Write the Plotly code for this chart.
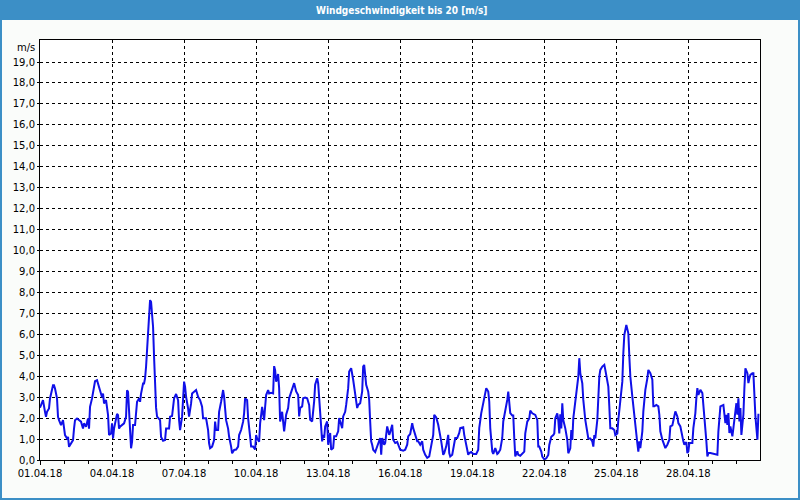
import pandas as pd
import plotly.graph_objects as go

# Hours after 01.04.2018 00:00 and wind speed [m/s]
hours = [0, 2, 3, 5, 6, 7, 9, 10, 12, 13, 14, 15, 17, 18, 19, 21, 23, 24, 25, 27, 28, 29, 31, 33, 34, 35, 37, 39, 41, 43, 44, 46, 48, 49,
         50, 52, 54, 55, 57, 59, 60, 62, 63, 64, 66, 67, 68, 69, 71, 72, 73, 74, 75, 77, 78, 79, 80, 82, 84, 86, 87, 88, 89, 91, 92, 93,
         95, 96, 97, 99, 100, 101, 103, 104, 105, 106, 108, 109, 110, 111, 112, 113, 114, 115, 116, 117, 118, 120, 121, 123, 125, 126,
         129, 130, 132, 134, 136, 138, 139, 140, 142, 144, 145, 146, 148, 149, 151, 152, 154, 156, 158, 160, 162, 163, 166, 168, 169,
         170, 172, 174, 175, 176, 178, 179, 181, 183, 184, 186, 188, 189, 191, 192, 194, 196, 198, 199, 201, 203, 204, 205, 207, 208,
         210, 211, 213, 215, 216, 217, 219, 220, 222, 224, 225, 226, 228, 229, 231, 233, 234, 235, 236, 238, 239, 240, 242, 243, 244,
         246, 248, 249, 251, 253, 254, 256, 258, 259, 260, 262, 263, 265, 267, 269, 270, 272, 273, 274, 275, 277, 278, 279, 280, 281,
         282, 283, 284, 285, 287, 288, 290, 291, 293, 294, 296, 298, 299, 300, 302, 303, 305, 306, 308, 309, 311, 313, 314, 316, 317,
         318, 320, 322, 323, 324, 325, 326, 328, 329, 330, 331, 332, 333, 335, 337, 338, 340, 341, 342, 344, 345, 347, 349, 350, 352,
         353, 355, 357, 358, 360, 363, 365, 367, 368, 370, 371, 372, 373, 375, 377, 378, 380, 382, 383, 385, 387, 389, 391, 393, 394,
         396, 398, 399, 401, 403, 404, 406, 408, 409, 410, 412, 414, 415, 417, 419, 420, 423, 424, 426, 428, 429, 431, 433, 436, 438,
         439, 441, 443, 444, 446, 448, 449, 450, 452, 453, 455, 457, 458, 460, 462, 463, 465, 467, 468, 469, 470, 472, 473, 474, 475,
         477, 478, 480, 482, 483, 484, 485, 487, 489, 490, 492, 493, 495, 497, 498, 499, 501, 502, 504, 506, 508, 509, 511, 513, 514,
         515, 517, 518, 519, 520, 521, 522, 523, 525, 527, 528, 530, 531, 532, 533, 535, 537, 538, 539, 540, 542, 543, 545, 547, 548,
         550, 552, 553, 554, 555, 557, 559, 560, 562, 564, 565, 566, 568, 569, 570, 572, 574, 575, 577, 578, 580, 582, 583, 584, 586,
         588, 589, 590, 592, 594, 595, 597, 598, 599, 600, 602, 603, 605, 607, 608, 610, 612, 613, 614, 616, 618, 619, 620, 622, 624,
         625, 627, 629, 630, 632, 633, 635, 637, 638, 640, 642, 643, 644, 646, 647, 648, 649, 652, 653, 655, 656, 657, 658, 660, 662,
         663, 665, 666, 667, 668, 670, 673, 675, 677, 678, 679, 680, 683, 684, 685, 686, 687, 688, 689, 690, 692, 693, 694, 695, 696,
         697, 698, 699, 700, 701, 703, 704, 705, 707, 708, 709, 710, 712, 713, 714, 715, 717, 718, 719]

speeds = [2.5, 2.8, 2.86, 2.3, 2.06, 2.3, 2.46, 2.94, 3.33, 3.57, 3.57, 3.41, 2.94, 2.06, 1.9, 1.67, 1.9, 1.59, 1.19, 1.03, 1.1, 0.63,
          0.8, 0.95, 1.5, 1.9, 1.98, 1.9, 1.83, 1.5, 1.75, 1.59, 1.98, 1.5,
          2.54, 2.94, 3.57, 3.76, 3.81, 3.49, 3.41, 3.0, 3.17, 2.7, 2.86, 2.46, 2.14, 1.19, 1.27, 1.75, 1.03, 1.5, 1.75, 2.2, 2.14, 1.5,
          1.59, 1.67, 1.75, 2.06, 3.33, 3.25, 2.14, 0.56, 0.87, 1.67,
          1.67, 2.14, 2.78, 2.94, 2.78, 3.17, 3.65, 3.65, 3.9, 4.45, 6.36, 7.07, 7.63, 7.55, 7.0, 6.36, 4.93, 3.34, 2.5, 2.07, 1.99, 1.9,
          1.1, 0.92, 0.95, 1.5,
          1.5, 2.07, 2.1, 2.94, 3.15, 2.86, 1.9, 1.43, 2.07, 3.74, 3.5, 3.02, 2.46, 2.07, 2.7, 3.18, 3.26, 3.34, 3.02, 2.86, 2.54, 1.99,
          1.99, 1.43, 0.8,
          0.56, 0.64, 0.95, 1.83, 1.43, 1.43, 2.3, 2.78, 3.34, 3.02, 1.9, 1.5, 1.11, 0.64, 0.32, 0.48, 0.5, 0.64, 1.19, 1.43, 1.83, 2.23,
          2.94, 2.86, 1.99,
          1.11, 0.64, 0.64, 0.5, 1.19, 1.03, 0.87, 1.75, 2.54, 1.9, 2.54, 3.1, 3.34, 3.18, 3.21, 3.18, 4.48, 4.29, 3.74, 4.1, 3.43, 1.84,
          2.3, 1.92, 1.37,
          2.16, 2.48, 2.95, 3.27, 3.5, 3.67, 3.27, 3.1, 2.08, 2.48, 2.56, 2.95, 2.98, 2.95, 2.63, 1.92, 1.84, 2.3, 2.8, 3.59, 3.9, 3.67,
          2.95, 2.3, 1.92,
          0.89, 1.2, 1.05, 1.6, 1.84, 0.73, 1.29, 0.49, 0.57, 1.13, 1.13, 1.37, 2.0, 1.84, 1.52, 2.08, 2.3, 2.63, 3.43, 4.22, 4.38, 3.83,
          3.43, 2.87, 2.48,
          2.63, 2.71, 3.27, 4.46, 4.54, 3.9, 3.59, 3.27, 2.87, 1.84, 0.89, 0.73, 0.49, 0.38, 0.65, 0.81, 1.05, 0.25, 1.05, 0.73, 0.81, 1.6,
          1.2, 1.33, 1.68,
          0.97, 0.81, 0.86, 0.73, 0.49, 0.44, 0.49, 0.73, 1.13, 1.24, 1.52, 1.76, 1.52, 1.13, 0.89, 0.89, 0.73, 0.89, 0.49, 0.25, 0.1,
          0.17, 0.73, 1.2, 2.16,
          2.03, 1.68, 1.44, 0.89, 0.25, 0.33, 0.65, 1.2, 0.33, 0.17, 0.25, 0.73, 1.05, 1.05, 1.29, 1.52, 1.56, 1.2, 0.73, 0.25, 0.33, 0.38,
          0.29, 0.29, 0.49,
          1.52, 2.24, 2.79, 3.03, 3.43, 3.27, 2.79, 1.52, 0.41, 0.29, 0.57, 0.29, 0.33, 0.49, 1.05, 1.84, 2.32, 2.87, 3.27, 2.56, 2.24,
          2.13, 2.13, 1.05, 0.17,
          0.41, 0.25, 0.2, 0.28, 0.32, 0.4, 1.27, 1.83, 1.99, 2.36, 2.23, 2.2, 2.15, 1.91, 0.64, 0.64, 0.4, 0.16, 0.03, 0.08, 0.24, 0.72,
          1.11, 1.19, 1.27,
          1.99, 2.23, 1.91, 1.27, 2.18, 1.51, 2.71, 1.91, 1.51, 0.96, 0.32, 0.56, 1.43, 0.96, 1.99, 2.71, 3.5, 3.98, 4.86, 4.14, 3.66,
          2.87, 1.91, 1.43, 1.03,
          1.03, 0.88, 0.64, 1.19, 1.03, 1.91, 3.98, 4.3, 4.46, 4.54, 4.3, 4.06, 3.5, 2.55, 1.51, 1.51, 1.43, 1.19, 1.27, 1.91, 2.71, 3.74,
          5.1, 5.97, 6.45,
          6.05, 4.94, 3.98, 3.03, 2.07, 1.43, 0.8, 0.4, 0.89, 0.57, 1.37, 2.32, 3.35, 3.9, 4.3, 4.14, 3.83, 2.56, 2.56, 2.63, 2.56, 2.16,
          1.37, 0.97, 0.65,
          0.57, 0.73, 0.97, 1.6, 1.65, 1.87, 2.32, 2.08, 1.76, 1.6, 0.97, 0.89, 0.73, 0.86, 0.33, 0.41, 0.81, 0.81, 1.52, 2.24, 2.95, 3.43,
          3.11, 3.35, 3.19,
          2.63, 1.84, 0.89, 0.17, 0.33, 0.33, 0.29, 0.29, 0.25, 1.37, 2.24, 2.56, 2.63, 2.24, 1.76, 2.16, 1.68, 2.24, 1.29, 1.6, 1.13, 1.52,
          1.84, 2.24, 2.71,
          2.16, 2.95, 1.84, 2.48, 1.2, 2.16, 3.43, 4.38, 4.14, 3.67, 3.9, 4.06, 4.14, 4.14, 3.11, 2.08, 0.97, 2.16, 2.16]

title_text = "Windgeschwindigkeit bis 20 [m/s]"
unit_text = "m/s"
y_ticks = list(range(0, 20))

start = pd.Timestamp("2018-04-01 00:00")
end = start + pd.Timedelta(hours=719.6)
times = start + pd.to_timedelta(hours, unit="h")

BLUE_BAR = "#3c8fc6"
FONT = "DejaVu Sans"

fig = go.Figure()
fig.add_trace(go.Scatter(x=times, y=speeds, mode="lines",
                         line=dict(color="#1010e8", width=2), hoverinfo="skip"))

W, H = 800, 500
ml, mr, mt, mb = 40, 40, 40, 40
pw, ph = W - ml - mr, H - mt - mb


def px2paper_x(px):
    return (px - ml) / pw


def px2paper_y(py):
    return (H - mb - py) / ph


fig.update_layout(
    width=W, height=H,
    margin=dict(l=ml, r=mr, t=mt, b=mb, pad=0),
    paper_bgcolor="#fafcfa",
    plot_bgcolor="#ffffff",
    showlegend=False,
    separators=",.",
    font=dict(family=FONT, size=10, color="#000000"),
    xaxis=dict(
        type="date",
        range=[start, end],
        tickmode="linear", tick0=start, dtick=3 * 86400000,
        tickformat="%d.%m.%y",
        showgrid=True, gridcolor="#000000", gridwidth=1, griddash="dot",
        showline=True, linecolor="#000000", linewidth=1, mirror=True,
        ticks="outside", ticklen=4, tickcolor="#000000",
        minor=dict(dtick=86400000, tick0=start, ticks="outside", ticklen=3,
                   tickcolor="#000000", showgrid=False),
        tickfont=dict(family=FONT, size=10, color="#000000"),
        zeroline=False,
    ),
    yaxis=dict(
        range=[0, 20.05],
        tickmode="array", tickvals=y_ticks, tickformat=".1f",
        showgrid=True, gridcolor="#000000", gridwidth=1, griddash="dot",
        showline=True, linecolor="#000000", linewidth=1, mirror=True,
        ticks="outside", ticklen=2, tickcolor="#000000",
        tickfont=dict(family=FONT, size=10, color="#000000"),
        zeroline=False,
    ),
    shapes=[
        dict(type="rect", xref="paper", yref="paper",
             x0=px2paper_x(0), x1=px2paper_x(W), y0=px2paper_y(20), y1=px2paper_y(0),
             fillcolor=BLUE_BAR, line=dict(width=0), layer="above"),
        dict(type="rect", xref="paper", yref="paper",
             x0=px2paper_x(1), x1=px2paper_x(W - 1), y0=px2paper_y(H - 1), y1=px2paper_y(1),
             fillcolor="rgba(0,0,0,0)", line=dict(color=BLUE_BAR, width=2), layer="above"),
    ],
    annotations=[
        dict(text="<b>" + title_text + "</b>", xref="paper", yref="paper",
             x=px2paper_x(401), y=px2paper_y(10), xanchor="center", yanchor="middle",
             showarrow=False, font=dict(family="DejaVu Sans Condensed, Liberation Sans Narrow, sans-serif",
                                        size=10, color="#ffffff")),
        dict(text=unit_text, xref="paper", yref="paper",
             x=px2paper_x(37), y=px2paper_y(47), xanchor="right", yanchor="middle",
             showarrow=False, font=dict(family=FONT, size=10, color="#000000")),
    ],
)

fig.write_html("out.html")
